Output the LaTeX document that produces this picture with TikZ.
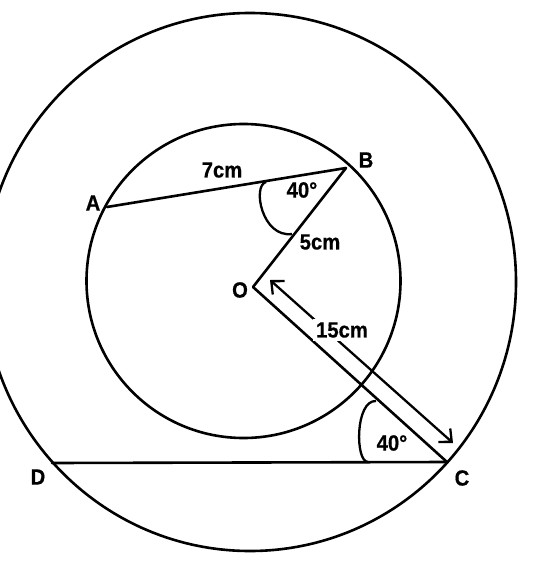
\documentclass[tikz,border=0pt]{standalone}
\usepackage{fontspec}
\setmainfont{Liberation Sans}
\newfontfamily\lblfont[FakeStretch=0.92, FakeBold=0.6]{Liberation Sans Bold}
\usetikzlibrary{arrows.meta}
\begin{document}
\begin{tikzpicture}[x=1pt,y=-1pt,
  geo/.style={line width=2.6pt, line cap=round, line join=round},
  anglearc/.style={line width=2.3pt},
  dimarrow/.style={line width=2.3pt, {Straight Barb[length=10pt,width=18pt]}-{Straight Barb[length=10pt,width=18pt]}},
  lbl/.style={font=\lblfont\fontsize{22}{22}\selectfont, inner sep=1pt},
  ]
\useasboundingbox (0,0) rectangle (540,572);
% circles
\draw[geo] (250,282) ellipse [x radius=266, y radius=269];
\draw[geo] (243.5,281) circle [radius=157];
% points
\coordinate (A) at (107,207);
\coordinate (B) at (346,168);
\coordinate (O) at (253,287);
\coordinate (C) at (447,462);
\coordinate (D) at (52,463);
\coordinate (a1) at (270,280);
\coordinate (a2) at (453,443);
% segments
\draw[geo] (A) -- (B);
\draw[geo] (B) -- (O);
\draw[geo] (O) -- (C);
\draw[geo] (D) -- (C);
% angle marks
\draw[anglearc] (266,182) .. controls (252,186) and (262,238) .. (292,234);
\draw[anglearc] (376,401) .. controls (355,400) and (355,462) .. (368,462);
% dimension arrow
\draw[dimarrow] (a1) -- (a2);
\node[lbl, fill=white, inner sep=3pt] (l15) at (342,330) {15cm};
% labels
\node[lbl] (lA) at (93,203) {A};
\node[lbl] (lB) at (366,160) {B};
\node[lbl] (lO) at (240,290) {O};
\node[lbl] (lC) at (462,478) {C};
\node[lbl] (lD) at (38,477) {D};
\node[lbl] (l7) at (222,170) {7cm};
\node[lbl] (l5) at (320,242) {5cm};
\node[lbl] (ang1) at (302,190) {40°};
\node[lbl] (ang2) at (392,443) {40°};
\end{tikzpicture}
\end{document}
